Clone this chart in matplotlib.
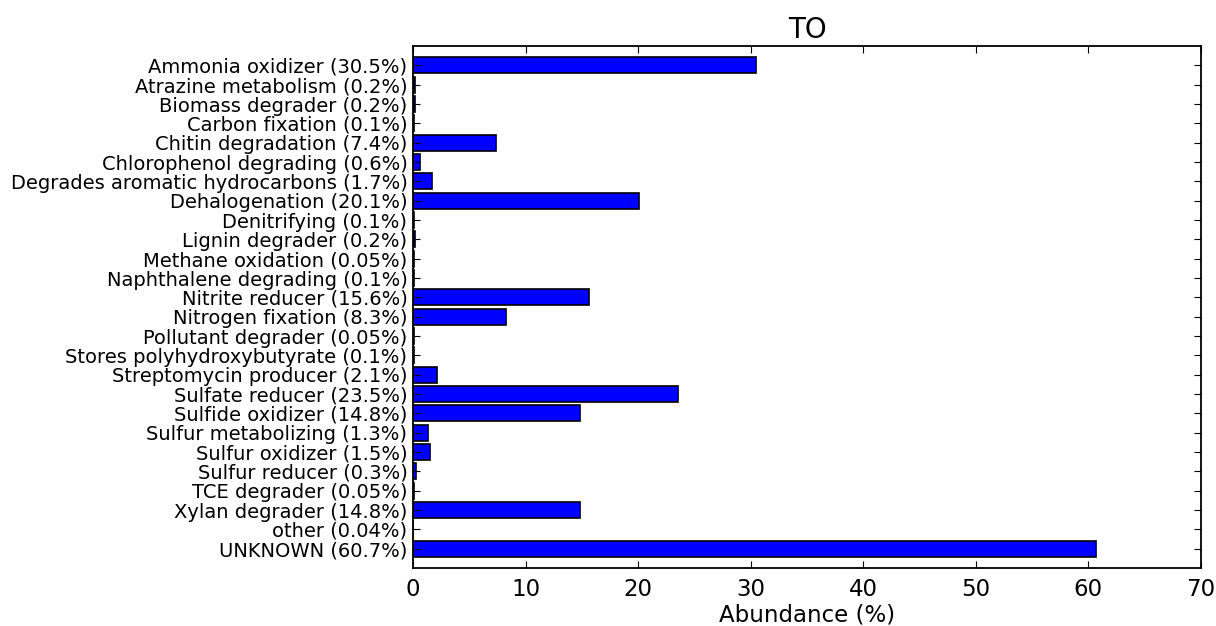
import matplotlib
matplotlib.use("Agg")
import matplotlib.pyplot as plt

categories = [
    "Ammonia oxidizer", "Atrazine metabolism", "Biomass degrader", "Carbon fixation",
    "Chitin degradation", "Chlorophenol degrading", "Degrades aromatic hydrocarbons",
    "Dehalogenation", "Denitrifying", "Lignin degrader", "Methane oxidation",
    "Naphthalene degrading", "Nitrite reducer", "Nitrogen fixation", "Pollutant degrader",
    "Stores polyhydroxybutyrate", "Streptomycin producer", "Sulfate reducer",
    "Sulfide oxidizer", "Sulfur metabolizing", "Sulfur oxidizer", "Sulfur reducer",
    "TCE degrader", "Xylan degrader", "other", "UNKNOWN",
]
values = [30.5, 0.2, 0.2, 0.1, 7.4, 0.6, 1.7, 20.1, 0.1, 0.2, 0.05, 0.1, 15.6, 8.3,
          0.05, 0.1, 2.1, 23.5, 14.8, 1.3, 1.5, 0.3, 0.05, 14.8, 0.04, 60.7]
value_labels = ["30.5", "0.2", "0.2", "0.1", "7.4", "0.6", "1.7", "20.1", "0.1", "0.2",
                "0.05", "0.1", "15.6", "8.3", "0.05", "0.1", "2.1", "23.5", "14.8",
                "1.3", "1.5", "0.3", "0.05", "14.8", "0.04", "60.7"]
title = "TO"
xlabel = "Abundance (%)"

fig = plt.figure(figsize=(12.16, 6.26), dpi=100)
ax = fig.add_axes([413/1216, 1-568/626, (1201-413)/1216, (568-46)/626])

pos = list(range(len(categories)))
ax.barh(pos, values, height=0.82, color="#0000ff", edgecolor="black", linewidth=1.2)
ax.set_ylim(len(categories), -1)
ax.set_xlim(0, 70)
ax.set_yticks(pos)
ax.set_yticklabels([f"{c} ({v}%)" for c, v in zip(categories, value_labels)], fontsize=14)
ax.set_xticks(range(0, 71, 10))
ax.tick_params(axis="x", labelsize=16.5, direction="in", top=True, length=5, pad=7)
ax.tick_params(axis="y", direction="in", right=True, length=5, pad=4)
for s in ax.spines.values():
    s.set_linewidth(1.3)
ax.set_xlabel(xlabel, fontsize=16.5, labelpad=2)
ax.set_title(title, fontsize=20, pad=6)

fig.savefig("out.png", dpi=100)
